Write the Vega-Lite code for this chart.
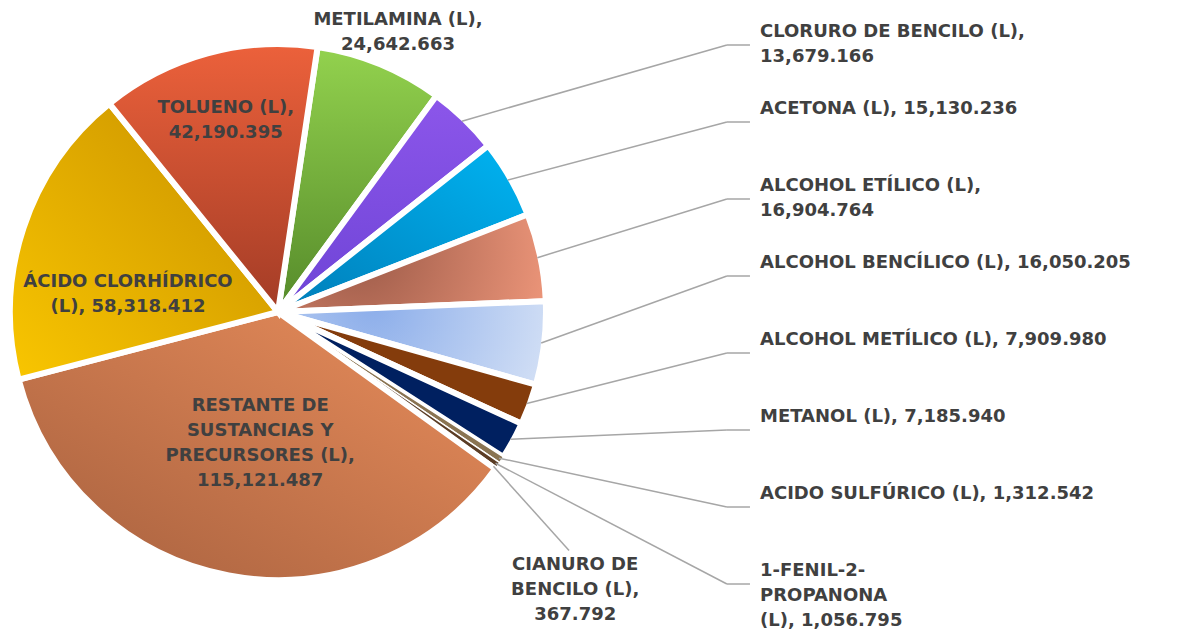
{
  "$schema": "https://vega.github.io/schema/vega-lite/v6.json",
  "width": 1186,
  "height": 638,
  "autosize": "none",
  "padding": 0,
  "background": "white",
  "config": {"view": {"stroke": null}, "text": {"font": "DejaVu Sans", "fontWeight": "bold", "fontSize": 18, "lineHeight": 25, "lineBreak": "\n", "fill": "#404040"}},
  "data": {
    "values": [
      {"orden": 1, "sustancia": "METILAMINA", "rotulo": "METILAMINA (L),\n", "valor": 24642.663},
      {"orden": 2, "sustancia": "CLORURO DE BENCILO", "rotulo": "CLORURO DE BENCILO (L),\n", "valor": 13679.166},
      {"orden": 3, "sustancia": "ACETONA", "rotulo": "ACETONA (L), ", "valor": 15130.236},
      {"orden": 4, "sustancia": "ALCOHOL ETÍLICO", "rotulo": "ALCOHOL ETÍLICO (L),\n", "valor": 16904.764},
      {"orden": 5, "sustancia": "ALCOHOL BENCÍLICO", "rotulo": "ALCOHOL BENCÍLICO (L), ", "valor": 16050.205},
      {"orden": 6, "sustancia": "ALCOHOL METÍLICO", "rotulo": "ALCOHOL METÍLICO (L), ", "valor": 7909.980},
      {"orden": 7, "sustancia": "METANOL", "rotulo": "METANOL (L), ", "valor": 7185.940},
      {"orden": 8, "sustancia": "ACIDO SULFÚRICO", "rotulo": "ACIDO SULFÚRICO (L), ", "valor": 1312.542},
      {"orden": 9, "sustancia": "1-FENIL-2-PROPANONA", "rotulo": "1-FENIL-2-\nPROPANONA\n(L), ", "valor": 1056.795},
      {"orden": 10, "sustancia": "CIANURO DE BENCILO", "rotulo": "CIANURO DE\nBENCILO (L),\n", "valor": 367.792},
      {"orden": 11, "sustancia": "RESTANTE DE SUSTANCIAS Y PRECURSORES", "rotulo": "RESTANTE DE\nSUSTANCIAS Y\nPRECURSORES (L),\n", "valor": 115121.487},
      {"orden": 12, "sustancia": "ÁCIDO CLORHÍDRICO", "rotulo": "ÁCIDO CLORHÍDRICO\n(L), ", "valor": 58318.412},
      {"orden": 13, "sustancia": "TOLUENO", "rotulo": "TOLUENO (L),\n", "valor": 42190.395}
    ]
  },
  "transform": [
    {"joinaggregate": [{"op": "sum", "field": "valor", "as": "total"}]},
    {"stack": "valor", "groupby": [], "sort": [{"field": "orden", "order": "ascending"}], "as": ["v0", "v1"]},
    {"calculate": "0.14835 + PI * (datum.v0 + datum.v1) / datum.total", "as": "ang"},
    {"calculate": "sin(datum.ang)", "as": "ux"},
    {"calculate": "cos(datum.ang)", "as": "uy"},
    {"calculate": "datum.rotulo + format(datum.valor, ',.3f')", "as": "texto"},
    {"calculate": "length(split(datum.texto, '\\n'))", "as": "nlin"},
    {"calculate": "1.00755 - 0.29057 * (datum.orden - 2)", "as": "ly"}
  ],
  "layer": [
    {
      "mark": {"type": "arc", "outerRadius": 268, "stroke": "white"},
      "encoding": {
        "x": {"datum": 0, "type": "quantitative", "scale": {"domain": [-1.04906, 3.42642], "nice": false, "zero": false}, "axis": null},
        "y": {"datum": 0, "type": "quantitative", "scale": {"domain": [-1.23019, 1.17736], "nice": false, "zero": false}, "axis": null},
        "theta": {"field": "v0", "type": "quantitative", "stack": null, "scale": {"domain": [0, 319870.377], "range": [0.14835, 6.43154], "nice": false}},
        "theta2": {"field": "v1"},
        "order": {"field": "orden", "type": "quantitative"},
        "strokeWidth": {"condition": {"test": "datum.orden >= 8 && datum.orden <= 10", "value": 1.5}, "value": 6},
        "fill": {
          "condition": [
            {"test": "datum.orden === 1", "value": {"gradient": "linear", "x1": 0, "y1": 0, "x2": 0, "y2": 1, "stops": [{"offset": 0, "color": "#93d24e"}, {"offset": 1, "color": "#558a2a"}]}},
            {"test": "datum.orden === 2", "value": {"gradient": "linear", "x1": 0, "y1": 0, "x2": 0, "y2": 1, "stops": [{"offset": 0, "color": "#8c56ea"}, {"offset": 1, "color": "#6e44d6"}]}},
            {"test": "datum.orden === 3", "value": {"gradient": "linear", "x1": 1, "y1": 0, "x2": 0, "y2": 1, "stops": [{"offset": 0, "color": "#00b4f2"}, {"offset": 1, "color": "#007db8"}]}},
            {"test": "datum.orden === 4", "value": {"gradient": "radial", "x1": 0.3, "y1": 0.45, "r1": 0, "x2": 0.3, "y2": 0.45, "r2": 0.8, "stops": [{"offset": 0, "color": "#9c5a48"}, {"offset": 1, "color": "#f49b7e"}]}},
            {"test": "datum.orden === 5", "value": {"gradient": "radial", "x1": 0.35, "y1": 0.35, "r1": 0, "x2": 0.35, "y2": 0.35, "r2": 0.8, "stops": [{"offset": 0, "color": "#8badea"}, {"offset": 1, "color": "#dde7f7"}]}},
            {"test": "datum.orden === 6", "value": "#843c0c"},
            {"test": "datum.orden === 7", "value": "#002060"},
            {"test": "datum.orden === 8", "value": "#8a7452"},
            {"test": "datum.orden === 9", "value": "#5b3d25"},
            {"test": "datum.orden === 10", "value": "#3f3f3f"},
            {"test": "datum.orden === 11", "value": {"gradient": "linear", "x1": 1, "y1": 0, "x2": 0, "y2": 1, "stops": [{"offset": 0, "color": "#ea8e5c"}, {"offset": 1, "color": "#a6603e"}]}},
            {"test": "datum.orden === 12", "value": {"gradient": "linear", "x1": 0, "y1": 1, "x2": 1, "y2": 0, "stops": [{"offset": 0, "color": "#f9c600"}, {"offset": 1, "color": "#c78f00"}]}},
            {"test": "datum.orden === 13", "value": {"gradient": "linear", "x1": 0, "y1": 0, "x2": 0, "y2": 1, "stops": [{"offset": 0, "color": "#ec613b"}, {"offset": 1, "color": "#a33c26"}]}}
          ],
          "value": "#999999"
        }
      }
    },
    {
      "transform": [{"filter": "datum.orden >= 2 && datum.orden <= 9"}],
      "mark": {"type": "rule", "stroke": "#a6a6a6", "strokeWidth": 1.5},
      "encoding": {
        "x": {"field": "ux", "type": "quantitative"},
        "y": {"field": "uy", "type": "quantitative"},
        "x2": {"datum": 1.694},
        "y2": {"field": "ly"}
      }
    },
    {
      "transform": [{"filter": "datum.orden >= 2 && datum.orden <= 9"}],
      "mark": {"type": "rule", "stroke": "#a6a6a6", "strokeWidth": 1.5},
      "encoding": {
        "x": {"datum": 1.694, "type": "quantitative"},
        "y": {"field": "ly", "type": "quantitative"},
        "x2": {"datum": 1.781},
        "y2": {"field": "ly"}
      }
    },
    {
      "transform": [{"filter": "datum.orden === 10"}, {"calculate": "datum.ang + 0.065", "as": "la"}, {"calculate": "1.42 * sin(datum.la)", "as": "ex"}, {"calculate": "1.42 * cos(datum.la)", "as": "ey"}],
      "mark": {"type": "rule", "stroke": "#a6a6a6", "strokeWidth": 1.5},
      "encoding": {
        "x": {"field": "ux", "type": "quantitative"},
        "y": {"field": "uy", "type": "quantitative"},
        "x2": {"field": "ex"},
        "y2": {"field": "ey"}
      }
    },
    {
      "transform": [{"filter": "datum.orden >= 2 && datum.orden <= 9"}],
      "mark": {"type": "text", "align": "left", "baseline": "top", "dy": -22},
      "encoding": {
        "x": {"datum": 1.819, "type": "quantitative"},
        "y": {"field": "ly", "type": "quantitative"},
        "text": {"field": "texto"}
      }
    },
    {
      "transform": [{"filter": "datum.orden === 1"}, {"calculate": "1.19 * datum.ux", "as": "tx"}, {"calculate": "1.19 * datum.uy", "as": "ty"}],
      "mark": {"type": "text", "align": "center", "baseline": "middle"},
      "encoding": {
        "x": {"field": "tx", "type": "quantitative"},
        "y": {"field": "ty", "type": "quantitative"},
        "text": {"field": "texto"}
      }
    },
    {
      "transform": [{"filter": "datum.orden === 10"}, {"calculate": "datum.ang + 0.065", "as": "la"}, {"calculate": "1.45 * sin(datum.la)", "as": "tx"}, {"calculate": "1.45 * cos(datum.la)", "as": "ty"}],
      "mark": {"type": "text", "align": "center", "baseline": "top"},
      "encoding": {
        "x": {"field": "tx", "type": "quantitative"},
        "y": {"field": "ty", "type": "quantitative"},
        "text": {"field": "texto"}
      }
    },
    {
      "transform": [
        {"filter": "datum.orden >= 11"},
        {"calculate": "datum.orden === 13 ? 0.75 : datum.orden === 12 ? 0.57 : 0.5", "as": "d"},
        {"calculate": "datum.ang + (datum.orden === 12 ? -0.2 : datum.orden === 11 ? -0.05 : 0)", "as": "la"},
        {"calculate": "datum.d * sin(datum.la)", "as": "tx"},
        {"calculate": "datum.d * cos(datum.la) + (datum.nlin - 1) * 12.5 / 265", "as": "ty"}
      ],
      "mark": {"type": "text", "align": "center", "baseline": "middle"},
      "encoding": {
        "x": {"field": "tx", "type": "quantitative"},
        "y": {"field": "ty", "type": "quantitative"},
        "text": {"field": "texto"}
      }
    }
  ]
}
